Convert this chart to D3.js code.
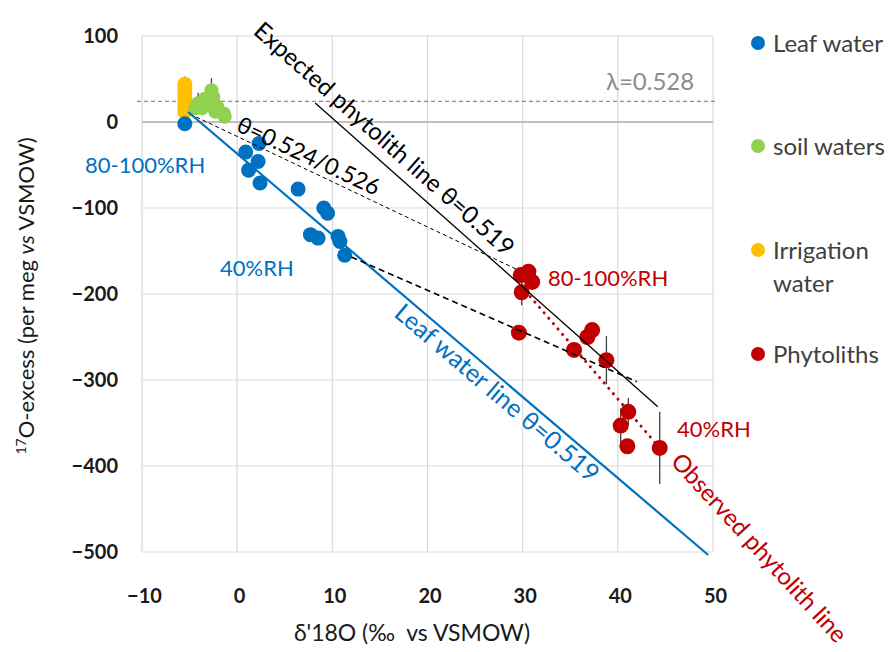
<!DOCTYPE html>
<html><head><meta charset="utf-8">
<script src="https://cdn.jsdelivr.net/npm/d3@7"></script>
<style>body{margin:0;background:#fff;} svg text{font-family:Lato,'Open Sans',sans-serif;}</style>
</head><body><svg id="c" width="894" height="652"></svg>
<script>
// ---- data ----
const xTicks = [-10, 0, 10, 20, 30, 40, 50];
const yTicks = [100, 0, -100, -200, -300, -400, -500];

const leafX = [-5.5, 0.9, 2.3, 2.2, 1.2, 2.4, 6.4, 9.1, 9.5, 7.7, 8.5, 10.6, 10.8, 11.3];
const leafY = [-2, -35, -25, -46, -56, -71, -78, -100, -106, -131, -135, -133, -139, -155];

const soilX = [-2.7, -2.5, -3.4, -4.1, -3.0, -2.1, -2.3, -1.4, -1.3, -4.4, -3.7];
const soilY = [37, 29, 27, 22, 20, 18, 12, 10, 6, 16, 16];
const soilErr = [14, 0, 0, 12, 0, 0, 0, 0, 0, 0, 0];

const irrX = [-5.5, -5.5, -5.5, -5.5, -5.5, -5.5, -5.5, -5.5];
const irrY = [44, 39, 34, 29, 24, 20, 16, 12];
const irrErr = [9, 0, 0, 0, 0, 0, 0, 0];

const phytoX = [29.8, 30.6, 31.0, 29.9, 29.6, 37.3, 36.8, 35.4, 38.8, 41.1, 40.3, 41.0, 44.4];
const phytoY = [-178, -174, -186, -198, -245, -242, -250, -265, -277, -337, -353, -377, -379];
const phytoErr = [0, 0, 0, 15, 0, 0, 0, 0, 28, 16, 20, 0, 42];

const leafLineX = [-5.15, 49.5], leafLineY = [11.6, -503.5];
const expectedLineX = [8.2, 44.2], expectedLineY = [22, -331];
const thetaLineX = [-4.3, 29.5], thetaLineY = [5.8, -172];
const mixLineX = [12.0, 42.0], mixLineY = [-157, -302];
const observedLineX = [30.8, 44.4], observedLineY = [-203, -379];
const lambdaY = 24;

const legendLabels = [["Leaf water"], ["soil waters"], ["Irrigation", "water"], ["Phytoliths"]];
const colors = {leaf: "#0070C0", soil: "#92D050", irr: "#FFC000", phyto: "#C00000"};

// ---- chart ----
const svg = d3.select("#c");
const x = d3.scaleLinear().domain([-10, 50]).range([142, 713]);
const y = d3.scaleLinear().domain([-500, 100]).range([552, 36]);

// gridlines
svg.append("g").selectAll("line").data(xTicks).join("line")
  .attr("x1", d => x(d)).attr("x2", d => x(d)).attr("y1", y(100)).attr("y2", y(-500))
  .attr("stroke", "#d9d9d9").attr("stroke-width", 1.2);
svg.append("g").selectAll("line").data(yTicks).join("line")
  .attr("x1", x(-10)).attr("x2", x(50)).attr("y1", d => y(d)).attr("y2", d => y(d))
  .attr("stroke", d => d === 0 ? "#bfbfbf" : "#d9d9d9").attr("stroke-width", d => d === 0 ? 1.8 : 1.2);

// axes labels via d3 axes
const xAxis = svg.append("g").attr("transform", `translate(2,${y(-500)})`)
  .call(d3.axisBottom(x).tickValues(xTicks).tickSize(0).tickPadding(37).tickFormat(d3.format("d")));
const yAxis = svg.append("g").attr("transform", `translate(${x(-10) - 24},0)`)
  .call(d3.axisLeft(y).tickValues(yTicks).tickSize(0).tickPadding(0).tickFormat(d3.format("d")));
[xAxis, yAxis].forEach(a => {
  a.select(".domain").remove();
  a.selectAll("text").attr("font-family", "Lato, sans-serif").attr("font-size", 20)
    .attr("font-weight", "bold").attr("fill", "#1a1a1a");
});

// lambda line
svg.append("line").attr("x1", x(-10) - 5).attr("x2", x(50) + 3).attr("y1", y(lambdaY)).attr("y2", y(lambdaY))
  .attr("stroke", "#8c8c8c").attr("stroke-width", 1.2).attr("stroke-dasharray", "4,3");

const line = d3.line().x(d => x(d[0])).y(d => y(d[1]));
const pairs = (xs, ys) => xs.map((v, i) => [v, ys[i]]);

// error bars
function errBars(xs, ys, es) {
  svg.append("g").selectAll("line").data(pairs(xs, ys).map((p, i) => [...p, es[i]]).filter(d => d[2] > 0)).join("line")
    .attr("x1", d => x(d[0])).attr("x2", d => x(d[0]))
    .attr("y1", d => y(d[1] + d[2])).attr("y2", d => y(d[1] - d[2]))
    .attr("stroke", "#404040").attr("stroke-width", 1.3);
}
errBars(soilX, soilY, soilErr);
errBars(irrX, irrY, irrErr);
errBars(phytoX, phytoY, phytoErr);

// points
function pts(xs, ys, col, r) {
  svg.append("g").selectAll("circle").data(pairs(xs, ys)).join("circle")
    .attr("cx", d => x(d[0])).attr("cy", d => y(d[1])).attr("r", r).attr("fill", col);
}
pts(irrX, irrY, colors.irr, 7.5);
pts(soilX, soilY, colors.soil, 7);
pts(leafX, leafY, colors.leaf, 7.5);
pts(phytoX, phytoY, colors.phyto, 8);

// lines
svg.append("path").attr("d", line(pairs(leafLineX, leafLineY))).attr("stroke", colors.leaf).attr("stroke-width", 2.2).attr("fill", "none");
svg.append("path").attr("d", line(pairs(expectedLineX, expectedLineY))).attr("stroke", "#000").attr("stroke-width", 1.3).attr("fill", "none");
svg.append("path").attr("d", line(pairs(thetaLineX, thetaLineY))).attr("stroke", "#000").attr("stroke-width", 1).attr("stroke-dasharray", "4,3").attr("fill", "none");
svg.append("path").attr("d", line(pairs(mixLineX, mixLineY))).attr("stroke", "#000").attr("stroke-width", 1.6).attr("stroke-dasharray", "6,4").attr("fill", "none");
svg.append("path").attr("d", line(pairs(observedLineX, observedLineY))).attr("stroke", colors.phyto).attr("stroke-width", 3).attr("stroke-dasharray", "0.1,7").attr("stroke-linecap", "round").attr("fill", "none");

// annotations
function ann(t, px, py, col, size, anchor) {
  svg.append("text").attr("x", px).attr("y", py).attr("fill", col).attr("font-size", size)
    .attr("text-anchor", anchor || "start").text(t);
}
function angleOf(xs, ys) {
  return Math.atan2(y(ys[1]) - y(ys[0]), x(xs[1]) - x(xs[0])) * 180 / Math.PI;
}
function rot(t, cx, cy, ang, col, size) {
  svg.append("text").attr("transform", `translate(${cx},${cy}) rotate(${ang})`)
    .attr("text-anchor", "middle").attr("dominant-baseline", "central")
    .attr("fill", col).attr("font-size", size).text(t);
}
ann("80-100%RH", 85, 173, colors.leaf, 22);
ann("40%RH", 220, 276, colors.leaf, 22);
ann("80-100%RH", 548, 286, colors.phyto, 22);
ann("40%RH", 677, 437, colors.phyto, 22);
ann("λ=0.528", 606, 90, "#8c8c8c", 24);
rot("Expected phytolith line θ=0.519", 385, 138, angleOf(expectedLineX, expectedLineY), "#000", 24);
rot("θ=0.524/0.526", 309, 155, 25, "#000", 23);
rot("Leaf water line θ=0.519", 498, 392, angleOf(leafLineX, leafLineY), colors.leaf, 25);
rot("Observed phytolith line", 760, 547, 47.5, colors.phyto, 24);

// legend
const legCols = [colors.leaf, colors.soil, colors.irr, colors.phyto];
const legY = [44, 147, 251, 355];
legendLabels.forEach((lines, i) => {
  svg.append("circle").attr("cx", 758).attr("cy", legY[i] - 1).attr("r", 7).attr("fill", legCols[i]);
  lines.forEach((l, j) => {
    svg.append("text").attr("x", 773).attr("y", legY[i] + 8 + j * 33).attr("fill", "#404040")
      .attr("font-size", 24).text(l);
  });
});

// axis titles
const yt = svg.append("text").attr("transform", `translate(34,296) rotate(-90)`).attr("text-anchor", "middle")
  .attr("font-size", 22).attr("fill", "#1a1a1a");
yt.append("tspan").attr("font-size", 14).attr("dy", -8).text("17");
yt.append("tspan").attr("dy", 8).text("O-excess (per meg ");
yt.append("tspan").attr("font-style", "italic").text("vs");
yt.append("tspan").text(" VSMOW)");
svg.append("text").attr("x", 412).attr("y", 641).attr("text-anchor", "middle").attr("font-size", 23)
  .attr("fill", "#1a1a1a").attr("xml:space", "preserve").text("δ'18O (‰  vs VSMOW)");
</script></body></html>
